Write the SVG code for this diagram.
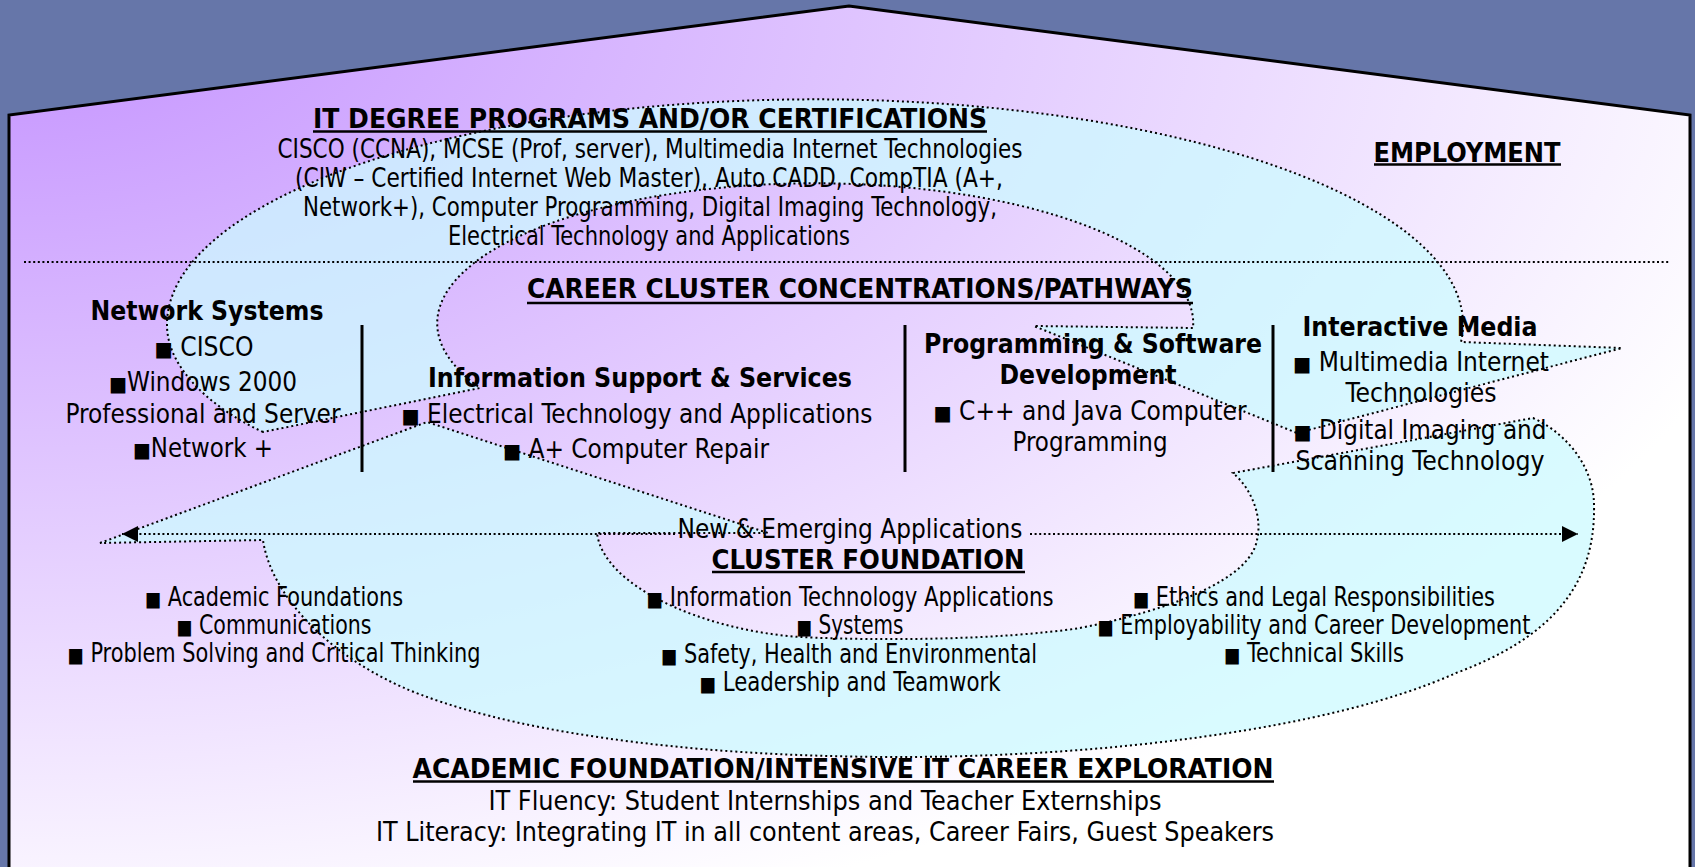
<svg xmlns="http://www.w3.org/2000/svg" width="1695" height="867" viewBox="0 0 1695 867">
<style>
.t{font-family:'DejaVu Sans Condensed','DejaVu Sans',sans-serif;font-size:27px;fill:#000;font-stretch:condensed}
.b{font-weight:bold}
.bu{font-family:'DejaVu Sans',sans-serif;font-size:20px;font-stretch:normal}
.sp{fill:#CCFAFF;fill-opacity:0.75;stroke:#000;stroke-width:2;stroke-dasharray:2 3}
.dot{stroke:#000;stroke-width:2;stroke-dasharray:2 2.6;fill:none}
.ul{stroke:#000;stroke-width:2.5}
.vl{stroke:#000;stroke-width:3}
</style>
<defs>
<radialGradient id="houseGrad" gradientUnits="objectBoundingBox" cx="0" cy="0" fx="0" fy="0" r="1.1">
<stop offset="0" stop-color="#C492FF"/>
<stop offset="1" stop-color="#FFFFFF"/>
</radialGradient>
<marker id="arr" viewBox="0 0 16 16" refX="16" refY="8" markerWidth="16" markerHeight="16" markerUnits="userSpaceOnUse" orient="auto">
<path d="M0,0 L16,8 L0,16 Z" fill="#000"/>
</marker>
</defs>
<rect x="0" y="0" width="1695" height="867" fill="#6676A9"/>
<g id="house">
<polygon points="9,885 9,115 849,6 1690,115 1690,885" fill="url(#houseGrad)" stroke="#000" stroke-width="3" stroke-linejoin="miter"/>
</g>
<g id="spiral-top">
<path class="sp" d="M263,432 C215,410 167,370 167,325 A648,225 0 1 1 1461,342 L1622,348 L1297,433 L1034,326 L1193,328 A378,140 0 1 0 480,388 Z"/>
</g>
<g id="spiral-bottom">
<path class="sp" d="M100,543 L427,422 L768,533 L597,533 C603,585 700,630 800,637 C880,641 1000,640 1080,628 C1170,610 1250,580 1257,540 C1263,515 1250,487 1233,473 L1533,418 C1570,435 1594,470 1594,505 C1596,590 1545,640 1456,673 C1330,730 1100,757 900,757 C680,757 500,730 402,687 C320,650 270,590 263,540 Z"/>
</g>
<g id="separator">
<line class="dot" x1="24" y1="262" x2="1670" y2="262"/>
</g>
<g id="dividers">
<line class="vl" x1="362" y1="325" x2="362" y2="472"/>
<line class="vl" x1="905" y1="325" x2="905" y2="472"/>
<line class="vl" x1="1273" y1="325" x2="1273" y2="472"/>
</g>
<g id="connectors">
<line class="dot" x1="675" y1="534" x2="122" y2="534" marker-end="url(#arr)"/>
<line class="dot" x1="1030" y1="534" x2="1578" y2="534" marker-end="url(#arr)"/>
</g>
<g id="node-it-degree" text-anchor="middle">
<text class="t b" x="650" y="128" textLength="674" lengthAdjust="spacingAndGlyphs">IT DEGREE PROGRAMS AND/OR CERTIFICATIONS</text>
<line class="ul" x1="313" y1="131.5" x2="987" y2="131.5"/>
<text class="t" x="650" y="158" textLength="745" lengthAdjust="spacingAndGlyphs">CISCO (CCNA), MCSE (Prof, server), Multimedia Internet Technologies</text>
<text class="t" x="649" y="187" textLength="708" lengthAdjust="spacingAndGlyphs">(CIW – Certified Internet Web Master), Auto CADD, CompTIA (A+,</text>
<text class="t" x="650" y="216" textLength="694" lengthAdjust="spacingAndGlyphs">Network+), Computer Programming, Digital Imaging Technology,</text>
<text class="t" x="649" y="245" textLength="402" lengthAdjust="spacingAndGlyphs">Electrical Technology and Applications</text>
</g>
<g id="node-employment" text-anchor="middle">
<text class="t b" x="1467" y="162" textLength="187" lengthAdjust="spacingAndGlyphs">EMPLOYMENT</text>
<line class="ul" x1="1374" y1="164.5" x2="1561" y2="164.5"/>
</g>
<g id="node-career-cluster" text-anchor="middle">
<text class="t b" x="860" y="298" textLength="666" lengthAdjust="spacingAndGlyphs">CAREER CLUSTER CONCENTRATIONS/PATHWAYS</text>
<line class="ul" x1="527" y1="303" x2="1193" y2="303"/>
</g>
<g id="node-network-systems" text-anchor="middle">
<text class="t b" x="207" y="320" textLength="233" lengthAdjust="spacingAndGlyphs">Network Systems</text>
<text class="t" x="204" y="356" textLength="99" lengthAdjust="spacingAndGlyphs"><tspan class="bu">■</tspan> CISCO</text>
<text class="t" x="203" y="391" textLength="188" lengthAdjust="spacingAndGlyphs"><tspan class="bu">■</tspan>Windows 2000</text>
<text class="t" x="203" y="423" textLength="275" lengthAdjust="spacingAndGlyphs">Professional and Server</text>
<text class="t" x="203" y="457" textLength="140" lengthAdjust="spacingAndGlyphs"><tspan class="bu">■</tspan>Network +</text>
</g>
<g id="node-info-support" text-anchor="middle">
<text class="t b" x="640" y="387" textLength="424" lengthAdjust="spacingAndGlyphs">Information Support &amp; Services</text>
<text class="t" x="637" y="423" textLength="471" lengthAdjust="spacingAndGlyphs"><tspan class="bu">■</tspan> Electrical Technology and Applications</text>
<text class="t" x="636" y="458" textLength="266" lengthAdjust="spacingAndGlyphs"><tspan class="bu">■</tspan> A+ Computer Repair</text>
</g>
<g id="node-programming" text-anchor="middle">
<text class="t b" x="1093" y="353" textLength="338" lengthAdjust="spacingAndGlyphs">Programming &amp; Software</text>
<text class="t b" x="1088" y="384" textLength="177" lengthAdjust="spacingAndGlyphs">Development</text>
<text class="t" x="1090" y="420" textLength="313" lengthAdjust="spacingAndGlyphs"><tspan class="bu">■</tspan> C++ and Java Computer</text>
<text class="t" x="1090" y="451" textLength="155" lengthAdjust="spacingAndGlyphs">Programming</text>
</g>
<g id="node-interactive-media" text-anchor="middle">
<text class="t b" x="1420" y="336" textLength="235" lengthAdjust="spacingAndGlyphs">Interactive Media</text>
<text class="t" x="1421" y="371" textLength="256" lengthAdjust="spacingAndGlyphs"><tspan class="bu">■</tspan> Multimedia Internet</text>
<text class="t" x="1421" y="402" textLength="151" lengthAdjust="spacingAndGlyphs">Technologies</text>
<text class="t" x="1420" y="439" textLength="253" lengthAdjust="spacingAndGlyphs"><tspan class="bu">■</tspan> Digital Imaging and</text>
<text class="t" x="1420" y="470" textLength="249" lengthAdjust="spacingAndGlyphs">Scanning Technology</text>
</g>
<g id="node-new-emerging" text-anchor="middle">
<text class="t" x="850" y="538" textLength="345" lengthAdjust="spacingAndGlyphs">New &amp; Emerging Applications</text>
</g>
<g id="node-cluster-foundation" text-anchor="middle">
<text class="t b" x="868" y="569" textLength="313" lengthAdjust="spacingAndGlyphs">CLUSTER FOUNDATION</text>
<line class="ul" x1="712" y1="572" x2="1025" y2="572"/>
<text class="t" x="274" y="606" textLength="258" lengthAdjust="spacingAndGlyphs"><tspan class="bu">■</tspan> Academic Foundations</text>
<text class="t" x="274" y="634" textLength="195" lengthAdjust="spacingAndGlyphs"><tspan class="bu">■</tspan> Communications</text>
<text class="t" x="274" y="662" textLength="413" lengthAdjust="spacingAndGlyphs"><tspan class="bu">■</tspan> Problem Solving and Critical Thinking</text>
<text class="t" x="850" y="606" textLength="407" lengthAdjust="spacingAndGlyphs"><tspan class="bu">■</tspan> Information Technology Applications</text>
<text class="t" x="850" y="634" textLength="107" lengthAdjust="spacingAndGlyphs"><tspan class="bu">■</tspan> Systems</text>
<text class="t" x="849" y="663" textLength="376" lengthAdjust="spacingAndGlyphs"><tspan class="bu">■</tspan> Safety, Health and Environmental</text>
<text class="t" x="850" y="691" textLength="301" lengthAdjust="spacingAndGlyphs"><tspan class="bu">■</tspan> Leadership and Teamwork</text>
<text class="t" x="1314" y="606" textLength="362" lengthAdjust="spacingAndGlyphs"><tspan class="bu">■</tspan> Ethics and Legal Responsibilities</text>
<text class="t" x="1314" y="634" textLength="433" lengthAdjust="spacingAndGlyphs"><tspan class="bu">■</tspan> Employability and Career Development</text>
<text class="t" x="1314" y="662" textLength="180" lengthAdjust="spacingAndGlyphs"><tspan class="bu">■</tspan> Technical Skills</text>
</g>
<g id="node-academic-foundation" text-anchor="middle">
<text class="t b" x="843" y="778" textLength="861" lengthAdjust="spacingAndGlyphs">ACADEMIC FOUNDATION/INTENSIVE IT CAREER EXPLORATION</text>
<line class="ul" x1="413" y1="781.5" x2="1274" y2="781.5"/>
<text class="t" x="825" y="810" textLength="673" lengthAdjust="spacingAndGlyphs">IT Fluency: Student Internships and Teacher Externships</text>
<text class="t" x="825" y="841" textLength="898" lengthAdjust="spacingAndGlyphs">IT Literacy: Integrating IT in all content areas, Career Fairs, Guest Speakers</text>
</g>
</svg>
